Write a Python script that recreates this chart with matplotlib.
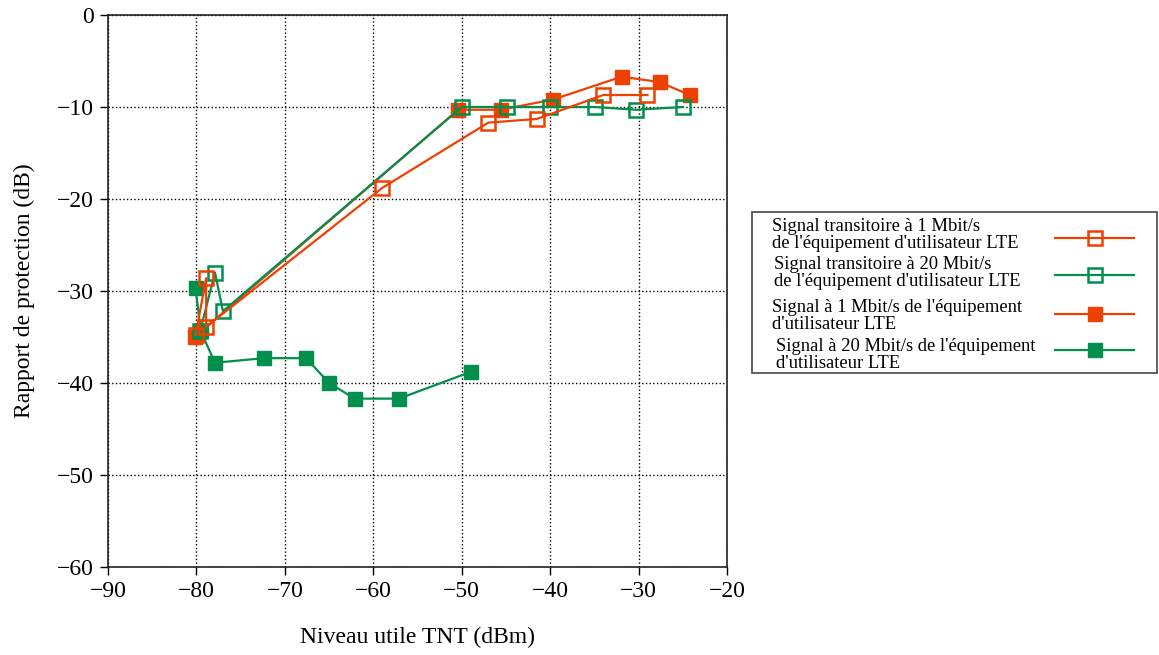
import matplotlib.pyplot as plt
from matplotlib.patches import Rectangle
from matplotlib.lines import Line2D

plt.rcParams['font.family'] = ['Liberation Serif', 'DejaVu Serif']

ORANGE = '#EE4000'
GREEN = '#008F4C'

# transient 1 Mbit/s (open orange)
tr1_x = [-80.1, -78.9, -78.9, -59.0, -47.0, -41.5, -34.0, -29.0]
tr1_y = [-34.8, -28.6, -33.9, -18.8, -11.7, -11.3, -8.7, -8.7]
# transient 20 Mbit/s (open green)
tr20_x = [-79.6, -77.9, -77.0, -50.0, -44.9, -40.0, -34.9, -30.3, -25.0]
tr20_y = [-34.4, -28.0, -32.2, -10.0, -10.0, -10.0, -10.0, -10.3, -10.0]
# continuous 1 Mbit/s (filled orange)
s1_x = [-80.2, -50.4, -45.6, -39.7, -31.9, -27.6, -24.2]
s1_y = [-35.0, -10.3, -10.3, -9.2, -6.7, -7.3, -8.7]
# continuous 20 Mbit/s (filled green)
s20_x = [-80.1, -79.5, -77.9, -72.4, -67.6, -65.0, -62.1, -57.1, -49.0]
s20_y = [-29.7, -34.4, -37.8, -37.3, -37.3, -40.0, -41.7, -41.7, -38.8]

labels = [
    "Signal transitoire à 1 Mbit/s\nde l'équipement d'utilisateur LTE",
    "Signal transitoire à 20 Mbit/s\nde l'équipement d'utilisateur LTE",
    "Signal à 1 Mbit/s de l'équipement\nd'utilisateur LTE",
    "Signal à 20 Mbit/s de l'équipement\nd'utilisateur LTE",
]

W, H = 1159, 655
fig = plt.figure(figsize=(W / 100, H / 100), dpi=100)
ax = fig.add_axes([108 / W, 1 - 567 / H, 619 / W, 552 / H])

ms = 10
styles = [
    dict(color=ORANGE, mfc='none', mec=ORANGE, mew=1.8),
    dict(color=GREEN, mfc='none', mec=GREEN, mew=1.8),
    dict(color=ORANGE, mfc=ORANGE, mec=ORANGE),
    dict(color=GREEN, mfc=GREEN, mec=GREEN),
]
ax.plot(s1_x, s1_y, '-s', lw=1.6, ms=ms, zorder=3, **styles[2])
ax.plot(s20_x, s20_y, '-s', lw=1.6, ms=ms, zorder=3, **styles[3])
ax.plot(tr20_x, tr20_y, '-s', lw=1.6, ms=ms, zorder=4, **styles[1])
ax.plot(tr1_x, tr1_y, '-s', lw=1.6, ms=ms, zorder=4, **styles[0])

ax.set_xlim(-90, -20)
ax.set_ylim(-60, 0)
ax.set_xticks(range(-90, -19, 10))
ax.set_yticks(range(-60, 1, 10))
ax.set_xticklabels([f'\u2212{abs(v)}' if v < 0 else str(v) for v in range(-90, -19, 10)])
ax.set_yticklabels([f'\u2212{abs(v)}' if v < 0 else str(v) for v in range(-60, 1, 10)])
ax.tick_params(direction='out', length=6, width=1, labelsize=17, pad=4)
ax.grid(True, color='black', linestyle=':', linewidth=1)
for sp in ax.spines.values():
    sp.set_linewidth(1.2)
    sp.set_color('#222222')

ax.set_xlabel('Niveau utile TNT (dBm)', fontsize=17, labelpad=18)
ax.set_ylabel('Rapport de protection (dB)', fontsize=17, labelpad=16)

# legend box drawn by hand: text on the left, sample on the right
text_x = [772, 774, 772, 776]
text_y = [235, 273, 316, 355]
hand_y = [238, 275, 314, 350]
for lab, tx, ty, hy, st in zip(labels, text_x, text_y, hand_y, styles):
    fig.text(tx / W, 1 - ty / H, lab, fontsize=13.4, va='center', ha='left',
             linespacing=0.95)
    fig.add_artist(Line2D([1055 / W, 1134 / W], [1 - hy / H] * 2,
                          transform=fig.transFigure, lw=1.6, **st))
    fig.add_artist(Line2D([1095 / W], [1 - hy / H], marker='s', ms=ms,
                          transform=fig.transFigure, ls='none', **st))

fig.add_artist(Rectangle((752 / W, 1 - 373 / H), 405 / W, 161 / H,
                         transform=fig.transFigure, fill=False,
                         edgecolor='#555555', linewidth=1.3))

fig.savefig('out.png', dpi=100)
